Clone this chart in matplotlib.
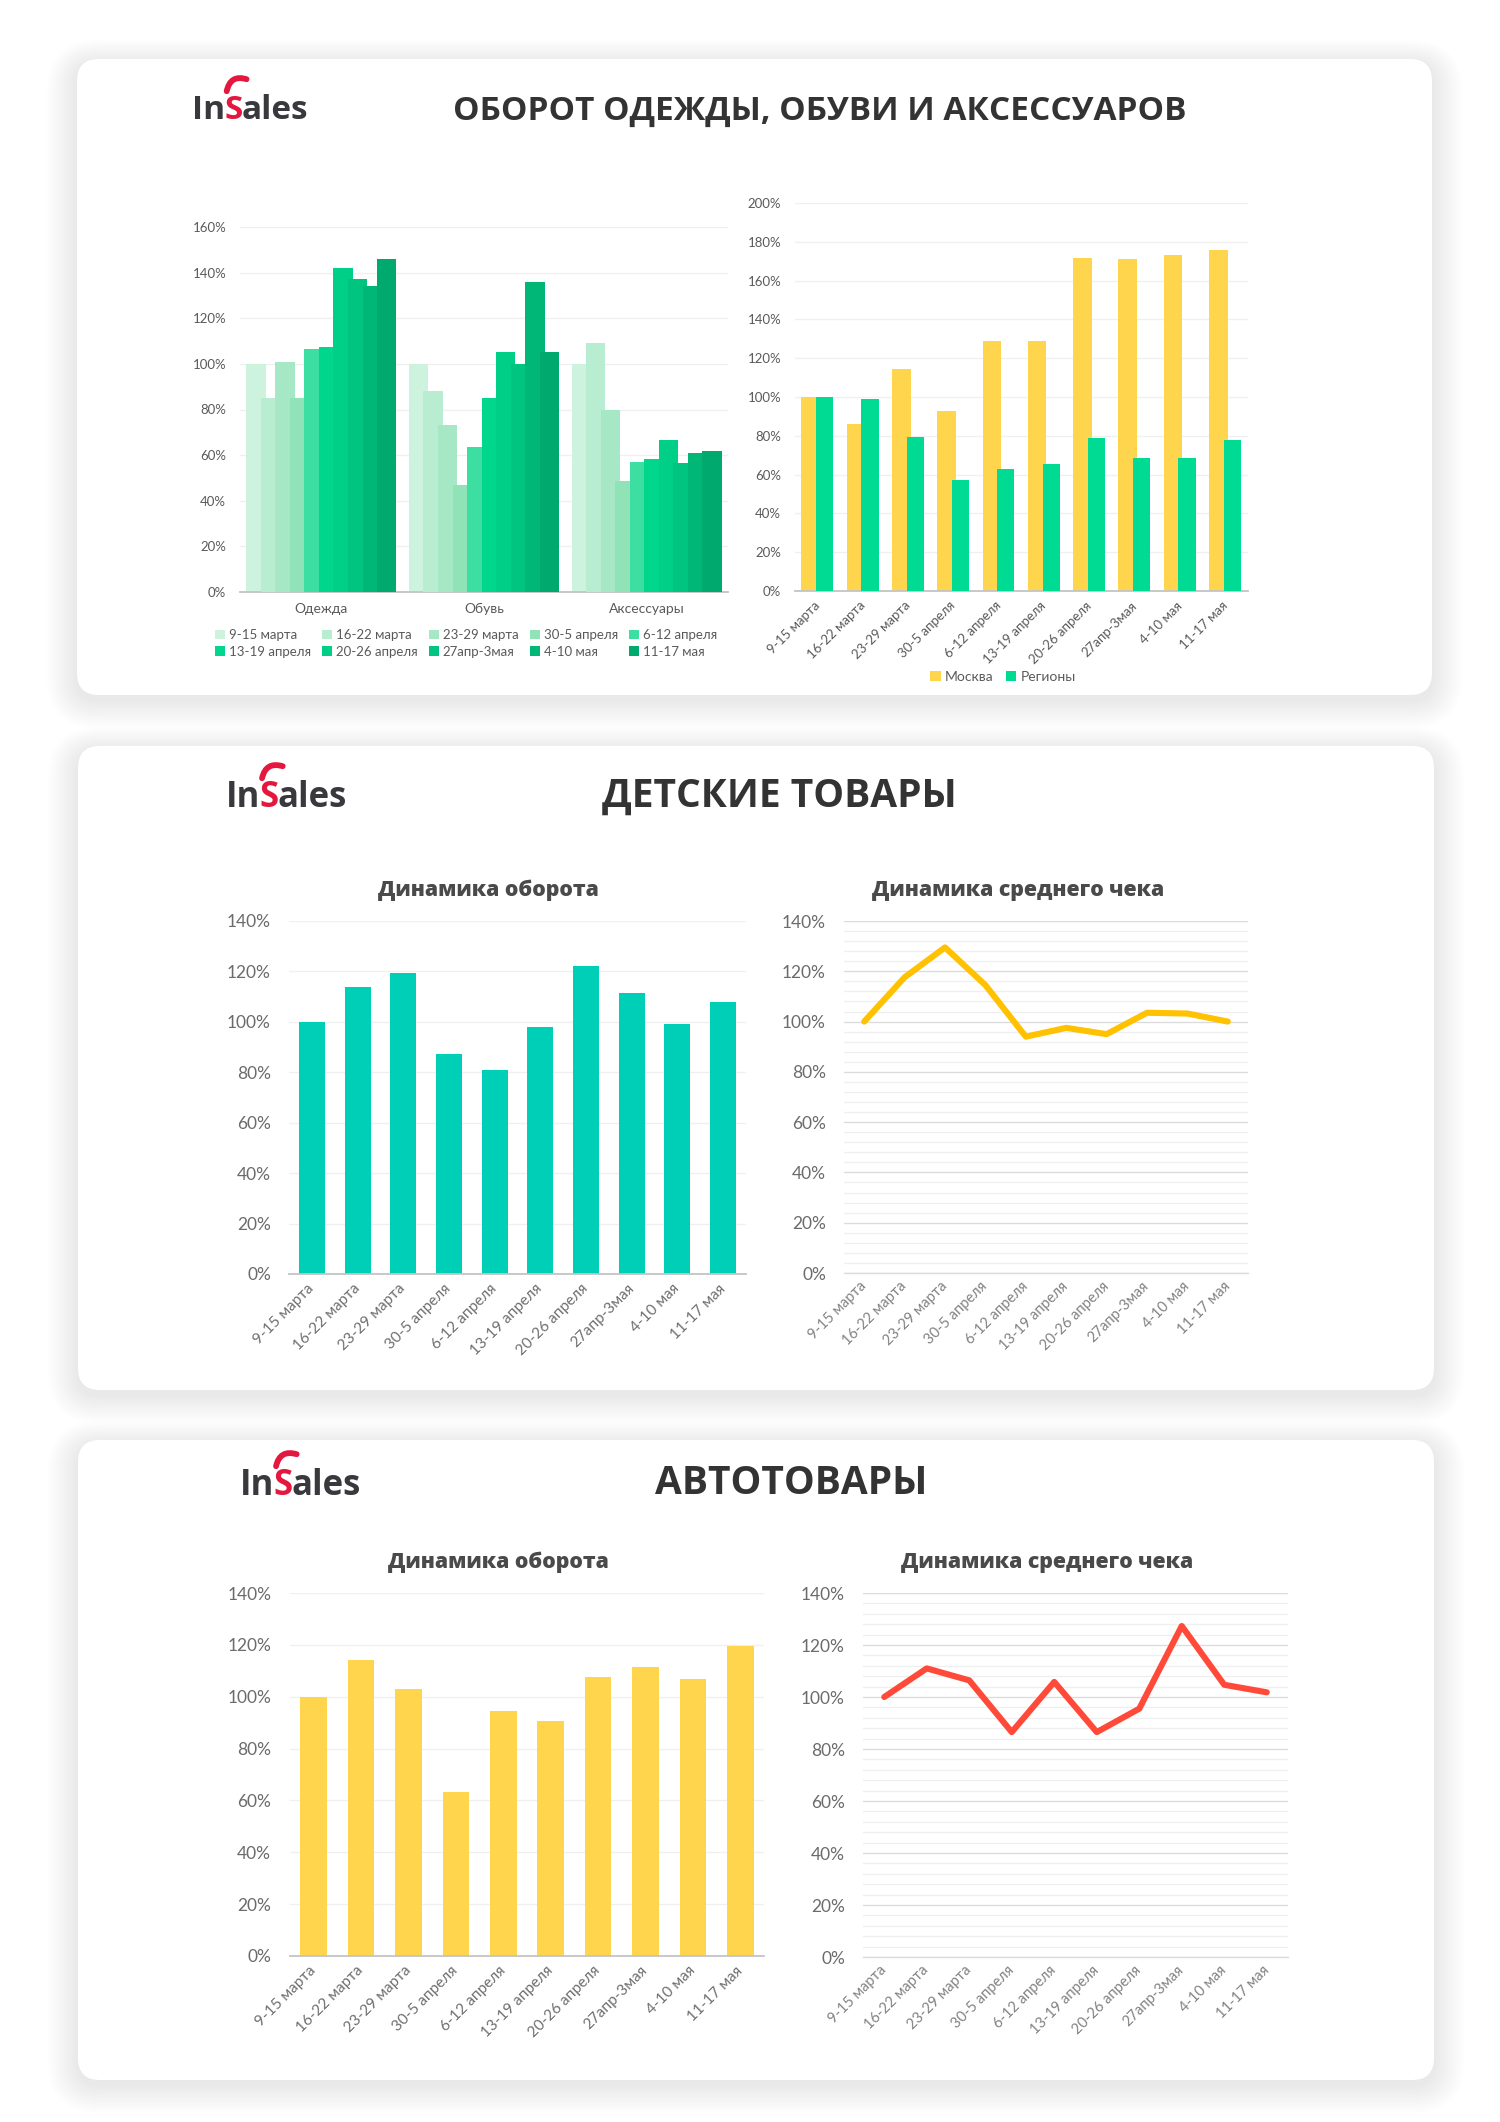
import matplotlib
matplotlib.use('Agg')
import matplotlib.pyplot as plt
from matplotlib.patches import FancyBboxPatch, PathPatch
from matplotlib.path import Path
from matplotlib.ticker import MultipleLocator, FuncFormatter

# ---------------- data ----------------
weeks = ["9-15 марта", "16-22 марта", "23-29 марта", "30-5 апреля", "6-12 апреля",
         "13-19 апреля", "20-26 апреля", "27апр-3мая", "4-10 мая", "11-17 мая"]
categories = ["Одежда", "Обувь", "Аксессуары"]
odezhda = [100, 85, 101, 85, 106.5, 107.5, 142, 137, 134, 146]
obuv = [100, 88, 73, 47, 63.5, 85, 105, 100, 136, 105]
aksessuary = [100, 109, 80, 48.7, 57, 58.5, 66.5, 56.5, 60.8, 61.8]
moskva = [100, 86, 114.5, 93, 129, 129, 171.5, 171, 173, 176]
regiony = [100, 99, 79.3, 57.3, 63, 65.5, 79, 68.5, 68.5, 78]
kids_turnover = [100, 114, 119.5, 87.3, 81, 98, 122, 111.6, 99.3, 108]
kids_check = [100, 117.6, 129.5, 114.5, 94, 97.5, 95, 103.5, 103.2, 100]
auto_turnover = [100, 114, 103, 63.4, 94.6, 90.5, 107.6, 111.5, 106.7, 119.6]
auto_check = [100, 111, 106.4, 86.5, 105.8, 86.5, 95.5, 127.3, 104.7, 101.8]

week_colors = ["#cdf2de", "#b9edd1", "#a6e7c5", "#90e2b7", "#3ddea1",
               "#00d78d", "#00cf87", "#00c47f", "#00b778", "#00aa6f"]

W, H = 1500, 2122
fig = plt.figure(figsize=(15, 21.22), dpi=100)
fig.patch.set_facecolor('white')
plt.rcParams['font.family'] = ['Lato', 'Open Sans', 'DejaVu Sans']
BOLD = ['Open Sans', 'DejaVu Sans']

bg = fig.add_axes([0, 0, 1, 1], zorder=-10)
bg.set_xlim(0, W)
bg.set_ylim(H, 0)
bg.axis('off')


def card(x0, y0, x1, y1):
    for i in range(22, 0, -1):
        p = FancyBboxPatch((x0 - i * 1.4, y0 - i * 1.1 + 5), x1 - x0 + i * 2.8, y1 - y0 + i * 2.4,
                           boxstyle='round,pad=0,rounding_size=%d' % (22 + i * 1.4),
                           fc='#000000', ec='none', alpha=0.003, zorder=1)
        bg.add_patch(p)
    bg.add_patch(FancyBboxPatch((x0, y0), x1 - x0, y1 - y0,
                                boxstyle='round,pad=0,rounding_size=22',
                                fc='white', ec='none', zorder=2))


renderer = fig.canvas.get_renderer()


def logo(x, base, size=25):
    kw = dict(fontsize=size, fontfamily=BOLD, fontweight='bold', va='baseline', ha='left', zorder=5)
    t1 = bg.text(x, base, "In", color='#38383d', **kw)
    b1 = t1.get_window_extent(renderer)
    t2 = bg.text(b1.x1 - 1, base, "S", color='#e4173f', **kw)
    b2 = t2.get_window_extent(renderer)
    bg.text(b2.x1 - 1, base, "ales", color='#38383d', **kw)
    w = b2.x1 - b2.x0
    cap = size * 100 / 72 * 0.714
    top = base - cap
    sx0 = b2.x0 + 0.1 * w
    sx1 = b2.x1 - 0.1 * w
    sw = sx1 - sx0
    verts = [(sx0 + 0.05 * sw, top - 4), (sx0 + 0.3 * sw, top - 21), (sx1 + 0.4 * sw, top - 16)]
    path = Path(verts, [Path.MOVETO, Path.CURVE3, Path.CURVE3])
    bg.add_patch(PathPatch(path, fill=False, ec='#e4173f', lw=4.2, capstyle='round', zorder=5))


def title(cx, base, s, size):
    bg.text(cx, base, s, ha='center', va='baseline', fontsize=size, fontweight='bold',
            fontfamily=BOLD, color='#333333', zorder=5)


def subtitle(cx, base, s):
    bg.text(cx, base, s, ha='center', va='baseline', fontsize=15.3, fontweight='heavy',
            fontfamily=BOLD, color='#4a4a4a', zorder=5)


card(77, 59, 1432, 695)
card(78, 746, 1434, 1390)
card(78, 1440, 1434, 2080)

logo(192, 119, 24)
title(820, 120, "ОБОРОТ ОДЕЖДЫ, ОБУВИ И АКСЕССУАРОВ", 24)
logo(226, 807, 25)
title(779, 807, "ДЕТСКИЕ ТОВАРЫ", 28)
logo(240, 1495, 25)
title(791, 1494, "АВТОТОВАРЫ", 28)

subtitle(488, 896, "Динамика оборота")
subtitle(1018, 896, "Динамика среднего чека")
subtitle(498, 1568, "Динамика оборота")
subtitle(1047, 1568, "Динамика среднего чека")


def make_axes(x0, y_top, x1, y_bot):
    ax = fig.add_axes([x0 / W, 1 - y_bot / H, (x1 - x0) / W, (y_bot - y_top) / H])
    ax.set_facecolor('none')
    return ax


pct = FuncFormatter(lambda v, p: f"{v:.0f}%")


def style(ax, ymax, ysize, ypad, ycolor, grid='#f0f0f0'):
    ax.set_ylim(0, ymax)
    ax.yaxis.set_major_locator(MultipleLocator(20))
    ax.yaxis.set_major_formatter(pct)
    for s in ['top', 'right', 'left']:
        ax.spines[s].set_visible(False)
    ax.spines['bottom'].set_color('#c4c4c4')
    ax.spines['bottom'].set_linewidth(1.3)
    ax.tick_params(axis='both', which='both', length=0)
    ax.tick_params(axis='y', labelsize=ysize, pad=ypad, labelcolor=ycolor)
    ax.set_axisbelow(True)
    ax.grid(axis='y', color=grid, lw=1.0)


def rot_labels(ax, size, color, pad):
    ax.set_xticks(range(len(weeks)))
    ax.set_xticklabels(weeks, rotation=45, ha='right', va='center', rotation_mode='anchor',
                       fontsize=size, color=color)
    ax.tick_params(axis='x', pad=pad)


# ---------- card 1, left: grouped overlapping bars ----------
ax1 = make_axes(240, 227, 728, 592)
style(ax1, 160, 9.5, 10, '#5a5a5a')
step, bw = 0.0894, 0.119
handles = []
for j, wk in enumerate(weeks):
    vals = [odezhda[j], obuv[j], aksessuary[j]]
    xs = [i + (j - 4.5) * step for i in range(len(categories))]
    bc = ax1.bar(xs, vals, width=bw, color=week_colors[j], label=wk, zorder=2 + j)
    handles.append(bc)
ax1.set_xlim(-0.5, 2.5)
ax1.set_xticks(range(len(categories)))
ax1.set_xticklabels(categories, fontsize=10, color='#5a5a5a')
ax1.tick_params(axis='x', pad=8)
order = [0, 5, 1, 6, 2, 7, 3, 8, 4, 9]
leg1 = ax1.legend([handles[k] for k in order], [weeks[k] for k in order], ncol=5,
                  loc='upper left', bbox_to_anchor=(215 / W, 1 - 629 / H), bbox_transform=fig.transFigure,
                  frameon=False, fontsize=9.5, handlelength=0.75, handleheight=0.75, handletextpad=0.3,
                  columnspacing=0.85, labelspacing=0.35, borderpad=0, borderaxespad=0)
for t in leg1.get_texts():
    t.set_color('#5a5a5a')

# ---------- card 1, right: Москва vs Регионы ----------
ax2 = make_axes(795, 203, 1248, 591)
style(ax2, 200, 9.5, 10, '#5a5a5a')
xi = list(range(len(weeks)))
ax2.bar([x - 0.155 for x in xi], moskva, width=0.41, color='#fed54c', label='Москва', zorder=2)
ax2.bar([x + 0.155 for x in xi], regiony, width=0.38, color='#00db93', label='Регионы', zorder=3)
ax2.set_xlim(-0.5, 9.5)
rot_labels(ax2, 9.5, '#5a5a5a', 9)
leg2 = ax2.legend(loc='center', bbox_to_anchor=(1003 / W, 1 - 677 / H), bbox_transform=fig.transFigure,
                  ncol=2, frameon=False, fontsize=10, handlelength=0.75, handleheight=0.75,
                  handletextpad=0.3, columnspacing=0.9, borderpad=0)
for t in leg2.get_texts():
    t.set_color('#5a5a5a')

# ---------- card 2, left ----------
ax3 = make_axes(289, 921, 746, 1274)
style(ax3, 140, 12.5, 13, '#6b6b6b')
ax3.bar(xi, kids_turnover, width=0.57, color='#00cfb7', zorder=2)
ax3.set_xlim(-0.5, 9.5)
rot_labels(ax3, 11, '#6e6e6e', 9)

# ---------- card 2, right ----------
ax4 = make_axes(844, 921, 1248, 1273)
style(ax4, 140, 12.5, 13, '#6b6b6b', grid='#dcdcdc')
ax4.yaxis.set_minor_locator(MultipleLocator(4))
ax4.grid(axis='y', which='minor', color='#efefef', lw=0.9)
ax4.tick_params(axis='y', which='minor', length=0)
ax4.spines['bottom'].set_color('#dcdcdc')
ax4.spines['bottom'].set_linewidth(1.0)
ax4.plot(xi, kids_check, color='#ffc100', lw=4.4, solid_capstyle='round', solid_joinstyle='round',
         zorder=3, clip_on=False)
ax4.set_xlim(-0.5, 9.5)
rot_labels(ax4, 10.5, '#828282', 8)

# ---------- card 3, left ----------
ax5 = make_axes(290, 1593, 764, 1956)
style(ax5, 140, 12.5, 13.5, '#6b6b6b')
ax5.bar(xi, auto_turnover, width=0.56, color='#fed54c', zorder=2)
ax5.set_xlim(-0.5, 9.5)
rot_labels(ax5, 11, '#6e6e6e', 9)

# ---------- card 3, right ----------
ax6 = make_axes(863, 1593, 1288, 1957)
style(ax6, 140, 12.5, 13, '#6b6b6b', grid='#dcdcdc')
ax6.yaxis.set_minor_locator(MultipleLocator(4))
ax6.grid(axis='y', which='minor', color='#efefef', lw=0.9)
ax6.tick_params(axis='y', which='minor', length=0)
ax6.spines['bottom'].set_color('#dcdcdc')
ax6.spines['bottom'].set_linewidth(1.0)
ax6.plot(xi, auto_check, color='#ff4a3a', lw=4.4, solid_capstyle='round', solid_joinstyle='round',
         zorder=3, clip_on=False)
ax6.set_xlim(-0.5, 9.5)
rot_labels(ax6, 10.5, '#828282', 8)

fig.savefig('out.png', dpi=100, facecolor='white')
